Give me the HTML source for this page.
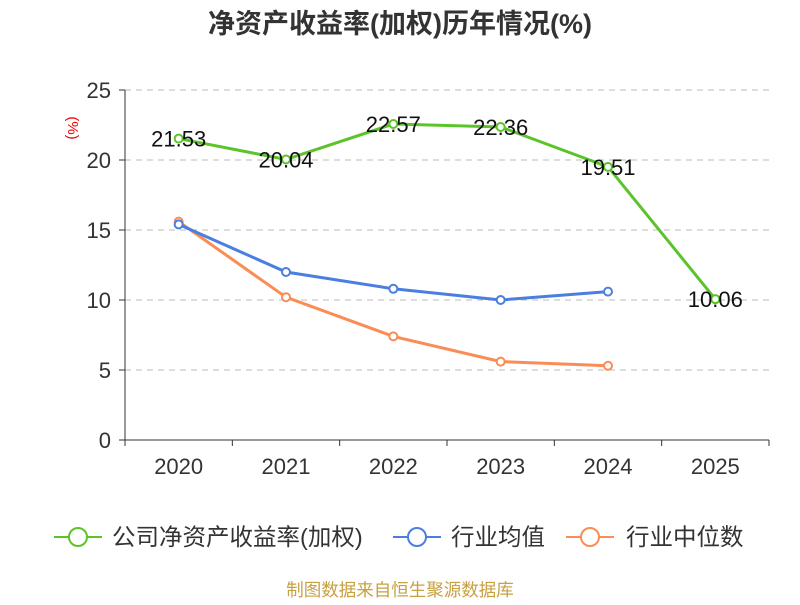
<!DOCTYPE html>
<html><head><meta charset="utf-8"><style>
body{margin:0;background:#fff;}
svg text{font-family:"Liberation Sans","Noto Sans CJK SC",sans-serif;}
</style></head><body>
<svg id="chart" width="800" height="600" xmlns="http://www.w3.org/2000/svg">
<text x="400" y="33" text-anchor="middle" font-size="27" font-weight="bold" fill="#333">净资产收益率(加权)历年情况(%)</text>
<text x="68" y="128" text-anchor="middle" font-size="15" fill="#e00" transform="rotate(90 68 128)">(%)</text>
<g id="grid"></g><g id="axes"></g><g id="series"></g>
<g>
<g><line x1="54" y1="537" x2="102" y2="537" stroke="#5cc42a" stroke-width="2"/><circle cx="78" cy="537" r="9" fill="#fff" stroke="#5cc42a" stroke-width="2"/><text x="112" y="545" font-size="23.5" fill="#333">公司净资产收益率(加权)</text></g>
<g><line x1="393" y1="537" x2="441" y2="537" stroke="#4a7fe0" stroke-width="2"/><circle cx="417" cy="537" r="9" fill="#fff" stroke="#4a7fe0" stroke-width="2"/><text x="451" y="545" font-size="23.5" fill="#333">行业均值</text></g>
<g><line x1="566" y1="537" x2="614" y2="537" stroke="#fa8c55" stroke-width="2"/><circle cx="590" cy="537" r="9" fill="#fff" stroke="#fa8c55" stroke-width="2"/><text x="626" y="545" font-size="23.5" fill="#333">行业中位数</text></g>
</g>
<text x="400" y="596" text-anchor="middle" font-size="17.5" fill="#c8a040">制图数据来自恒生聚源数据库</text>
</svg>
<script>
const categories=["2020","2021","2022","2023","2024","2025"];
const companyValues=[21.53,20.04,22.57,22.36,19.51,10.06];
const industryAvg=[15.4,12.0,10.8,10.0,10.6];
const industryMedian=[15.6,10.2,7.4,5.6,5.3];
const yTicks=[0,5,10,15,20,25];
const NS="http://www.w3.org/2000/svg";
const x0=125,x1=769,yBase=440,yTop=90,yMax=25;
const band=(x1-x0)/categories.length;
const xs=i=>x0+band*(i+0.5);
const ys=v=>yBase-(v/yMax)*(yBase-yTop);
function mk(tag,attrs,parent){const e=document.createElementNS(NS,tag);for(const k in attrs)e.setAttribute(k,attrs[k]);parent.appendChild(e);return e;}
const grid=document.getElementById('grid'),axes=document.getElementById('axes'),series=document.getElementById('series');
yTicks.forEach(t=>{
  if(t>0){const l=mk('line',{x1:x0,x2:x1,y1:ys(t),y2:ys(t),stroke:'#bbb','stroke-dasharray':'6,5'},grid);
  
  }
  const tk=mk('line',{x1:x0-6,x2:x0,y1:ys(t),y2:ys(t),stroke:'#333'},axes);
  
  
  const tx=mk('text',{x:x0-14,y:ys(t)+8,'text-anchor':'end','font-size':22,fill:'#333'},axes);tx.textContent=t;
  
  
});
const ya=mk('line',{x1:x0,x2:x0,y1:yTop,y2:yBase,stroke:'#333'},axes);


const xa=mk('line',{x1:x0,x2:x1,y1:yBase,y2:yBase,stroke:'#333'},axes);


for(let i=0;i<=categories.length;i++){const tk=mk('line',{x1:x0+band*i,x2:x0+band*i,y1:yBase,y2:yBase+6,stroke:'#333'},axes);

}
categories.forEach((c,i)=>{const t=mk('text',{x:xs(i),y:yBase+34,'text-anchor':'middle','font-size':22,fill:'#333'},axes);t.textContent=c;

});
function drawSeries(vals,color,name,labels){
  const g=mk('g',{},series);
  
  
  const p=mk('polyline',{points:vals.map((v,i)=>xs(i)+','+ys(v)).join(' '),fill:'none',stroke:color,'stroke-width':3},g);
  
  
  vals.forEach((v,i)=>{const c=mk('circle',{cx:xs(i),cy:ys(v),r:4,fill:'#fff',stroke:color,'stroke-width':2},g);
    
    
    if(labels){const t=mk('text',{x:xs(i),y:ys(v)+8,'text-anchor':'middle','font-size':22,fill:'#111'},g);t.textContent=v.toFixed(2);
    
    }
  });
}
drawSeries(industryMedian,'#fa8c55','industry-median-series',false);
drawSeries(industryAvg,'#4a7fe0','industry-avg-series',false);
drawSeries(companyValues,'#5cc42a','company-roe-series',true);
</script>
</body></html>
